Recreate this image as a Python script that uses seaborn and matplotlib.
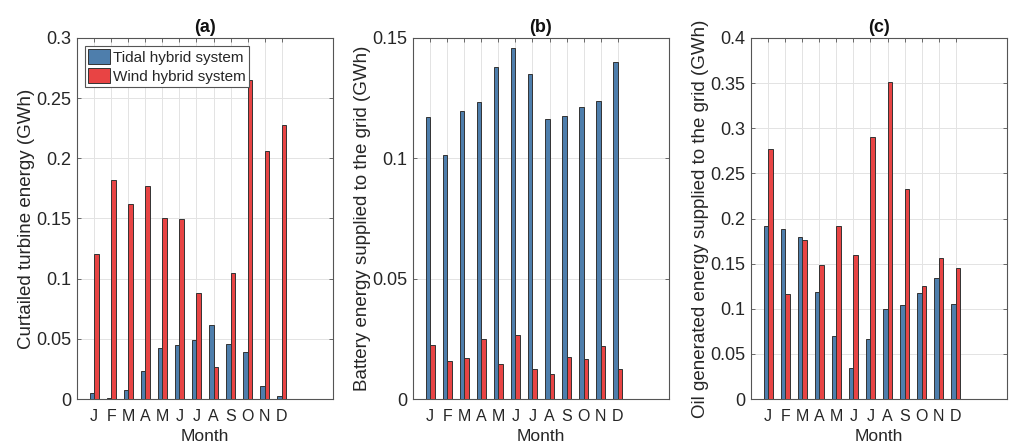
import matplotlib
matplotlib.use("Agg")
import matplotlib.pyplot as plt
import seaborn as sns
import pandas as pd
from matplotlib.ticker import FormatStrFormatter, MultipleLocator

months = ["Jan", "Feb", "Mar", "Apr", "May", "Jun", "Jul", "Aug", "Sep", "Oct", "Nov", "Dec"]
month_letters = ["J", "F", "M", "A", "M", "J", "J", "A", "S", "O", "N", "D"]
systems = ["Tidal hybrid system", "Wind hybrid system"]

curtailed_tidal = [0.005, 0.001, 0.0078, 0.0235, 0.042, 0.0449, 0.049, 0.0612, 0.0457, 0.039, 0.011, 0.0022]
curtailed_wind = [0.1205, 0.1823, 0.162, 0.177, 0.1504, 0.1496, 0.0878, 0.0266, 0.1047, 0.2651, 0.2064, 0.2277]

battery_tidal = [0.1173, 0.1014, 0.1197, 0.1234, 0.1378, 0.146, 0.1349, 0.1165, 0.1176, 0.1213, 0.1238, 0.1402]
battery_wind = [0.0226, 0.0158, 0.017, 0.0248, 0.0145, 0.0266, 0.0125, 0.0104, 0.0173, 0.0168, 0.022, 0.0125]

oil_tidal = [0.1913, 0.188, 0.1799, 0.1186, 0.0702, 0.0343, 0.0665, 0.0997, 0.1042, 0.1175, 0.1341, 0.1056]
oil_wind = [0.277, 0.1167, 0.1758, 0.1481, 0.192, 0.1592, 0.2907, 0.3516, 0.2323, 0.1248, 0.1559, 0.1452]

titles = ["(a)", "(b)", "(c)"]
ylabels = ["Curtailed turbine energy (GWh)",
           "Battery energy supplied to the grid (GWh)",
           "Oil generated energy supplied to the grid (GWh)"]
ylims = [0.3, 0.15, 0.4]
ysteps = [0.05, 0.05, 0.05]

sns.set_style("white")
plt.rcParams['font.family'] = ['Liberation Sans', 'DejaVu Sans']

palette = {"Tidal hybrid system": "#4e7eac", "Wind hybrid system": "#e84444"}

fig = plt.figure(figsize=(10.11, 4.46), dpi=100)
lefts = [77 / 1011, 413 / 1011, 751 / 1011]
width = 256 / 1011
bottom = 1 - 399 / 446
height = 361 / 446

datasets = [(curtailed_tidal, curtailed_wind), (battery_tidal, battery_wind), (oil_tidal, oil_wind)]

for i, (t, w) in enumerate(datasets):
    ax = fig.add_axes([lefts[i], bottom, width, height])
    df = pd.DataFrame({
        "Month": months * 2,
        "System": [systems[0]] * 12 + [systems[1]] * 12,
        "Energy": list(t) + list(w),
    })
    sns.barplot(data=df, x="Month", y="Energy", hue="System", order=months,
                hue_order=systems, palette=palette, width=0.52, gap=0,
                edgecolor="#333333", linewidth=0.7, saturation=1,
                errorbar=None, ax=ax, legend=(i == 0), zorder=3)
    ax.set_xlim(-1, 14)
    ax.set_ylim(0, ylims[i])
    ax.set_xticks(range(12))
    ax.set_xticklabels(month_letters)
    ax.yaxis.set_major_locator(MultipleLocator(ysteps[i]))
    ax.yaxis.set_major_formatter(FormatStrFormatter('%g'))
    ax.grid(True, color="#e3e3e3", linewidth=0.7, zorder=0)
    ax.set_axisbelow(True)
    ax.tick_params(direction="in", length=3, width=0.6, colors="#555555",
                   labelcolor="#262626", top=True, right=True,
                   bottom=True, left=True)
    ax.tick_params(axis="y", pad=4, labelsize=13)
    ax.tick_params(axis="x", pad=7.5, labelsize=11.5)
    for sp in ax.spines.values():
        sp.set_color("#555555")
        sp.set_linewidth(0.8)
    ax.set_title(titles[i], fontweight="bold", fontsize=13, pad=4, color="#111111")
    ax.set_ylabel(ylabels[i], fontsize=13.5, color="#262626", labelpad=1)
    ax.set_xlabel("Month", fontsize=12.5, color="#262626", labelpad=3)
    if i == 0:
        leg = ax.legend(loc="upper left", fontsize=11, frameon=True, fancybox=False,
                        edgecolor="#555555", framealpha=1, handlelength=1.4,
                        handleheight=1.1, handletextpad=0.2, borderpad=0.25,
                        labelspacing=0.2, borderaxespad=0.5)
        leg.get_frame().set_linewidth(0.8)
        for h in leg.legend_handles:
            h.set_edgecolor("#333333")
            h.set_linewidth(0.7)

fig.savefig("out.png", dpi=100)
